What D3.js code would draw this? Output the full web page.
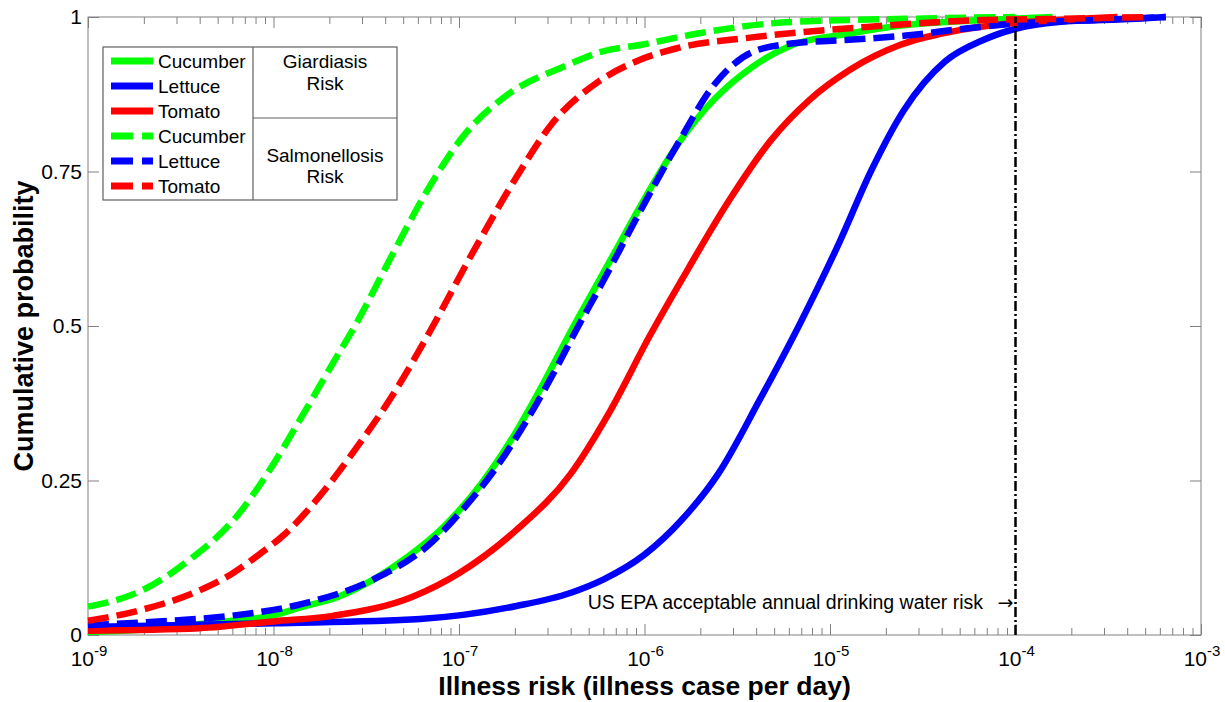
<!DOCTYPE html>
<html>
<head>
<meta charset="utf-8">
<script src="https://cdn.jsdelivr.net/npm/d3@7"></script>
<style>
  body { margin: 0; background: #fff; }
  svg { display: block; }
  text { font-family: "Liberation Sans", Arial, sans-serif; fill: #000; }
</style>
</head>
<body>
<svg id="chart" width="1225" height="702"></svg>
<script>
// ---- Data: cumulative probability of daily illness risk (risk given as log10 exponent) ----
const giardiaCucumberExp  = [-9, -8.6, -8.36, -8.0, -7.85, -7.65, -7.46, -7.27, -7.08, -6.88, -6.69, -6.54, -6.40, -6.27, -6.15, -6.03, -5.83, -5.62, -5.42, -5.21, -4.90, -4.59, -4.18, -3.8];
const giardiaCucumberProb = [0.005, 0.011, 0.019, 0.032, 0.045, 0.062, 0.09, 0.128, 0.176, 0.245, 0.33, 0.41, 0.49, 0.56, 0.625, 0.69, 0.79, 0.868, 0.919, 0.954, 0.973, 0.987, 0.995, 1.0];

const giardiaLettuceExp  = [-9, -8.0, -7.21, -6.69, -6.40, -6.22, -6.0, -5.80, -5.60, -5.38, -5.16, -4.95, -4.78, -4.60, -4.38, -4.18, -4.0, -3.77, -3.35, -3.19];
const giardiaLettuceProb = [0.013, 0.019, 0.026, 0.047, 0.068, 0.09, 0.13, 0.186, 0.262, 0.38, 0.505, 0.635, 0.75, 0.85, 0.928, 0.962, 0.981, 0.992, 0.997, 1.0];

const giardiaTomatoExp  = [-9, -8.4, -8.0, -7.68, -7.25, -7.0, -6.69, -6.40, -6.19, -5.97, -5.76, -5.54, -5.32, -5.11, -4.89, -4.62, -4.35, -4.05, -3.77, -3.45];
const giardiaTomatoProb = [0.007, 0.011, 0.022, 0.031, 0.062, 0.10, 0.17, 0.26, 0.36, 0.485, 0.595, 0.705, 0.80, 0.866, 0.915, 0.955, 0.976, 0.989, 0.995, 1.0];

const salmCucumberExp  = [-9, -8.71, -8.46, -8.19, -8.04, -7.85, -7.65, -7.58, -7.36, -7.17, -6.98, -6.73, -6.44, -6.24, -6.0, -5.72, -5.21, -4.59, -4.0];
const salmCucumberProb = [0.046, 0.072, 0.12, 0.195, 0.258, 0.352, 0.455, 0.49, 0.615, 0.72, 0.806, 0.876, 0.919, 0.943, 0.956, 0.973, 0.992, 0.997, 1.0];

const salmLettuceExp  = [-9, -8.62, -8.23, -7.85, -7.46, -7.17, -6.98, -6.79, -6.59, -6.47, -6.36, -6.24, -6.03, -5.83, -5.62, -5.42, -5.21, -4.90, -4.59, -4.28, -3.97, -3.56, -3.19];
const salmLettuceProb = [0.016, 0.022, 0.031, 0.05, 0.09, 0.144, 0.203, 0.275, 0.37, 0.435, 0.498, 0.563, 0.682, 0.79, 0.892, 0.943, 0.957, 0.963, 0.97, 0.981, 0.99, 0.995, 1.0];

const salmTomatoExp  = [-9, -8.72, -8.40, -8.23, -8.07, -7.94, -7.75, -7.56, -7.36, -7.17, -6.92, -6.69, -6.50, -6.25, -6.03, -5.83, -5.42, -4.80, -4.18, -3.77, -3.27];
const salmTomatoProb = [0.023, 0.040, 0.072, 0.098, 0.132, 0.163, 0.225, 0.30, 0.387, 0.484, 0.622, 0.741, 0.827, 0.895, 0.93, 0.949, 0.967, 0.984, 0.995, 0.997, 1.0];

const xTickExponents = [-9, -8, -7, -6, -5, -4, -3];
const yTickValues = [0, 0.25, 0.5, 0.75, 1];
const riskGroups = [["Giardiasis", "Risk"], ["Salmonellosis", "Risk"]];
const epaRiskLimit = 1e-4;
const epaLabel = "US EPA acceptable annual drinking water risk";

// ---- Series definitions (drawing order: Giardiasis solid, then Salmonellosis dashed) ----
const colors = { Cucumber: "#00ff00", Lettuce: "#0000ff", Tomato: "#ff0000" };
const toPoints = (exps, probs) => exps.map((e, i) => ({ risk: Math.pow(10, e), p: probs[i] }));
const series = [
  { name: "Cucumber", dashed: false, pts: toPoints(giardiaCucumberExp, giardiaCucumberProb) },
  { name: "Lettuce",  dashed: false, pts: toPoints(giardiaLettuceExp,  giardiaLettuceProb) },
  { name: "Tomato",   dashed: false, pts: toPoints(giardiaTomatoExp,   giardiaTomatoProb) },
  { name: "Cucumber", dashed: true,  pts: toPoints(salmCucumberExp,    salmCucumberProb) },
  { name: "Lettuce",  dashed: true,  pts: toPoints(salmLettuceExp,     salmLettuceProb) },
  { name: "Tomato",   dashed: true,  pts: toPoints(salmTomatoExp,      salmTomatoProb) }
];

// ---- Layout ----
const svg = d3.select("#chart");
const L = 88, R = 1201, T = 17, B = 635;
const axisColor = "#808080";

const x = d3.scaleLog().domain([1e-9, 1e-3]).range([L, R]);
const y = d3.scaleLinear().domain([0, 1]).range([B, T]);

svg.append("rect").attr("width", 1225).attr("height", 702).attr("fill", "#fff");

// Tick positions
const majorTicks = xTickExponents.map(e => Math.pow(10, e));
const minorTicks = [];
xTickExponents.slice(0, -1).forEach(e => {
  for (let m = 2; m <= 9; m++) minorTicks.push(m * Math.pow(10, e));
});

function styleAxis(g) {
  g.select(".domain").remove();
  g.selectAll(".tick line").attr("stroke", axisColor).attr("stroke-width", 1);
}

// Bottom axis: major + minor inward ticks
svg.append("g").attr("transform", `translate(0,${B})`)
  .call(d3.axisBottom(x).tickValues(majorTicks).tickSize(-11).tickFormat(() => ""))
  .call(styleAxis);
svg.append("g").attr("transform", `translate(0,${B})`)
  .call(d3.axisBottom(x).tickValues(minorTicks).tickSize(-7).tickFormat(() => ""))
  .call(styleAxis);
// Top axis
svg.append("g").attr("transform", `translate(0,${T})`)
  .call(d3.axisTop(x).tickValues(majorTicks).tickSize(-11).tickFormat(() => ""))
  .call(styleAxis);
svg.append("g").attr("transform", `translate(0,${T})`)
  .call(d3.axisTop(x).tickValues(minorTicks).tickSize(-7).tickFormat(() => ""))
  .call(styleAxis);

// Left axis with labels
const yFmt = d => (d === 0 ? "0" : d === 1 ? "1" : String(d));
svg.append("g").attr("transform", `translate(${L},0)`)
  .call(d3.axisLeft(y).tickValues(yTickValues).tickSize(-11).tickPadding(6).tickFormat(yFmt))
  .call(styleAxis)
  .call(g => g.selectAll(".tick text").attr("font-size", 21).attr("fill", "#000"));
// Right axis
svg.append("g").attr("transform", `translate(${R},0)`)
  .call(d3.axisRight(y).tickValues(yTickValues).tickSize(-11).tickFormat(() => ""))
  .call(styleAxis);

// Plot frame
svg.append("rect")
  .attr("x", L).attr("y", T).attr("width", R - L).attr("height", B - T)
  .attr("fill", "none").attr("stroke", axisColor).attr("stroke-width", 1);

// X tick labels with superscript exponents
const xLabels = svg.append("g");
xTickExponents.forEach(e => {
  const t = xLabels.append("text")
    .attr("x", x(Math.pow(10, e)) + 1).attr("y", 666)
    .attr("text-anchor", "middle").attr("font-size", 21);
  t.append("tspan").text("10");
  t.append("tspan").attr("dy", -10).attr("font-size", 15).text(String(e));
});

// Axis titles
svg.append("text")
  .attr("x", (L + R) / 2).attr("y", 695)
  .attr("text-anchor", "middle").attr("font-size", 26.5).attr("font-weight", "bold")
  .text("Illness risk (illness case per day)");
svg.append("text")
  .attr("transform", `translate(33,${(T + B) / 2}) rotate(-90)`)
  .attr("text-anchor", "middle").attr("font-size", 27).attr("font-weight", "bold")
  .text("Cumulative probability");

// ---- Curves ----
const line = d3.line()
  .x(d => x(d.risk))
  .y(d => y(d.p))
  .curve(d3.curveMonotoneX);

svg.append("g").selectAll("path")
  .data(series)
  .join("path")
  .attr("d", d => line(d.pts))
  .attr("fill", "none")
  .attr("stroke", d => colors[d.name])
  .attr("stroke-width", 6.5)
  .attr("stroke-linecap", "butt")
  .attr("stroke-linejoin", "round")
  .attr("stroke-dasharray", d => (d.dashed ? "21,8" : null));

// ---- EPA reference line ----
const xe = x(epaRiskLimit);
svg.append("line")
  .attr("x1", xe).attr("x2", xe).attr("y1", B).attr("y2", T)
  .attr("stroke", "#000").attr("stroke-width", 2.5)
  .attr("stroke-dasharray", "10,3,2,3");
svg.append("text")
  .attr("x", 983).attr("y", 609)
  .attr("text-anchor", "end").attr("font-size", 19.5)
  .text(epaLabel);
svg.append("text")
  .attr("x", xe - 2).attr("y", 609)
  .attr("text-anchor", "end").attr("font-size", 19)
  .style("font-family", "'DejaVu Sans', sans-serif")
  .text("\u2192");

// ---- Legend ----
const lg = svg.append("g");
const lgX = 103, lgY = 47, lgW = 294, lgH = 153, lgSplit = 253, lgMid = 118;
const legendColor = "#606060";
lg.append("rect")
  .attr("x", lgX).attr("y", lgY).attr("width", lgW).attr("height", lgH)
  .attr("fill", "#fff").attr("stroke", legendColor).attr("stroke-width", 1.2);
lg.append("line")
  .attr("x1", lgSplit).attr("x2", lgSplit).attr("y1", lgY).attr("y2", lgY + lgH)
  .attr("stroke", legendColor).attr("stroke-width", 1.2);
lg.append("line")
  .attr("x1", lgSplit).attr("x2", lgX + lgW).attr("y1", lgMid).attr("y2", lgMid)
  .attr("stroke", legendColor).attr("stroke-width", 1.2);

series.forEach((s, i) => {
  const ry = 61 + i * 25;
  lg.append("line")
    .attr("x1", 111).attr("x2", 153).attr("y1", ry).attr("y2", ry)
    .attr("stroke", colors[s.name]).attr("stroke-width", 7)
    .attr("stroke-dasharray", s.dashed ? "22,9" : null);
  lg.append("text")
    .attr("x", 158).attr("y", ry).attr("dy", "0.36em")
    .attr("font-size", 19).text(s.name);
});

const groupCenters = [[61, 83], [155, 176]];
riskGroups.forEach((lines, gi) => {
  lines.forEach((txt, li) => {
    lg.append("text")
      .attr("x", (lgSplit + lgX + lgW) / 2).attr("y", groupCenters[gi][li]).attr("dy", "0.36em")
      .attr("text-anchor", "middle").attr("font-size", 19).text(txt);
  });
});
</script>
</body>
</html>
